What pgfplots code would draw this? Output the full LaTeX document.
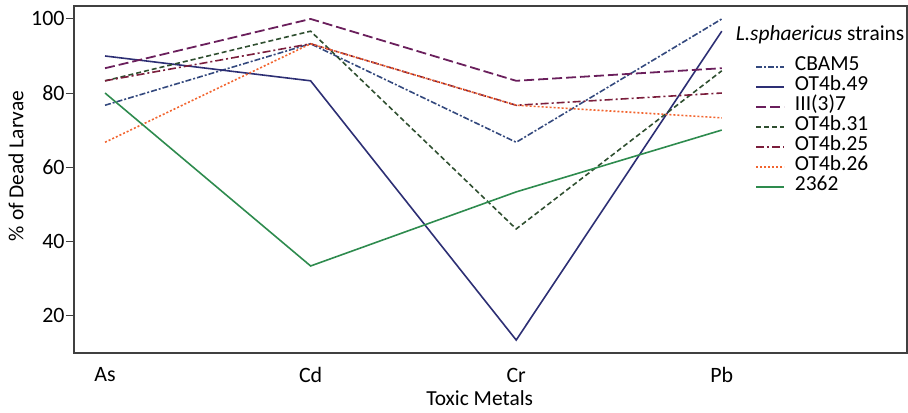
\documentclass[border=0pt]{standalone}
\usepackage{pgfplots}
\pgfplotsset{compat=1.18}
\usepackage{fontspec}
\setmainfont{Carlito}
\definecolor{cCBAM}{HTML}{34497E}
\definecolor{cOTf}{HTML}{2D2F74}
\definecolor{cIII}{HTML}{6A1F5C}
\definecolor{cOTtt}{HTML}{2F4F30}
\definecolor{cOTtf}{HTML}{7B1E3C}
\definecolor{cOTts}{HTML}{F2652F}
\definecolor{cTT}{HTML}{2E8B4E}
\begin{document}
\begin{tikzpicture}
\begin{axis}[
  scale only axis, width=833bp, height=347bp,
  xmin=-0.151, xmax=3.901, ymin=9.8, ymax=103.5,
  xtick={0,1,2,3}, xticklabels={As,Cd,Cr,Pb},
  ytick={20,40,60,80,100},
  axis x line*=bottom, axis y line*=left,
  axis line style={draw=black!75, line width=1.2bp},
  x tick style={draw=none},
  y tick style={draw=black!75, line width=1bp},
  tick align=outside, major tick length=8bp,
  /pgf/number format/assume math mode=true,
  tick label style={font=\fontsize{22}{24}\selectfont},
  xticklabel style={anchor=center, yshift=-14bp},
  yticklabel style={xshift=2bp},
  label style={font=\fontsize{21.5}{24}\selectfont},
  xlabel={Toxic Metals}, ylabel={\% of Dead Larvae},
  x label style={at={(axis description cs:0.487,-0.1297)}, anchor=center},
  y label style={at={(axis description cs:-0.0696,0.539)}, anchor=center},
  legend style={draw=none, fill=none, at={(axis description cs:0.8175,0.851)}, anchor=north west,
    inner sep=0pt, font=\fontsize{21.5}{24}\selectfont, row sep=2bp,
    nodes={inner sep=0pt, text height=13bp, text depth=5bp},
    /tikz/column 1/.style={column sep=10bp}},
  legend cell align=left,
  legend image code/.code={\draw[#1] (0bp,0bp) -- (28bp,0bp);},
  clip=false,
]
\addplot[cCBAM, line width=1.6bp, dash pattern=on 6bp off 2bp on 2bp off 2bp] coordinates {(0,76.7) (1,93.3) (2,66.7) (3,100)};
\addlegendentry{CBAM5}
\addplot[cOTf, line width=1.6bp] coordinates {(0,90) (1,83.3) (2,13.3) (3,96.7)};
\addlegendentry{OT4b.49}
\addplot[cIII, line width=1.8bp, dash pattern=on 10bp off 4bp] coordinates {(0,86.7) (1,100) (2,83.3) (3,86.7)};
\addlegendentry{III(3)7}
\addplot[cOTtt, line width=1.6bp, dash pattern=on 5bp off 3bp] coordinates {(0,83.3) (1,96.7) (2,43.3) (3,86)};
\addlegendentry{OT4b.31}
\addplot[cOTtf, line width=1.6bp, dash pattern=on 8bp off 3bp on 2bp off 3bp] coordinates {(0,83.3) (1,93.3) (2,76.7) (3,80)};
\addlegendentry{OT4b.25}
\addplot[cOTts, line width=1.6bp, dash pattern=on 2bp off 2bp] coordinates {(0,66.7) (1,93.3) (2,76.7) (3,73.3)};
\addlegendentry{OT4b.26}
\addplot[cTT, line width=1.6bp] coordinates {(0,80) (1,33.3) (2,53.3) (3,70)};
\addlegendentry{2362}
\node[anchor=center, font=\fontsize{21.5}{24}\selectfont, inner sep=0pt] at (axis description cs:0.8956,0.9164) {\textit{L.sphaericus} strains};
\end{axis}
\draw[draw=black!75, line width=1.2bp] (current axis.south west) rectangle (current axis.north east);
\path ([shift={(-74bp,-60bp)}]current axis.south west) rectangle ([shift={(1bp,6bp)}]current axis.north east);
\end{tikzpicture}
\end{document}
